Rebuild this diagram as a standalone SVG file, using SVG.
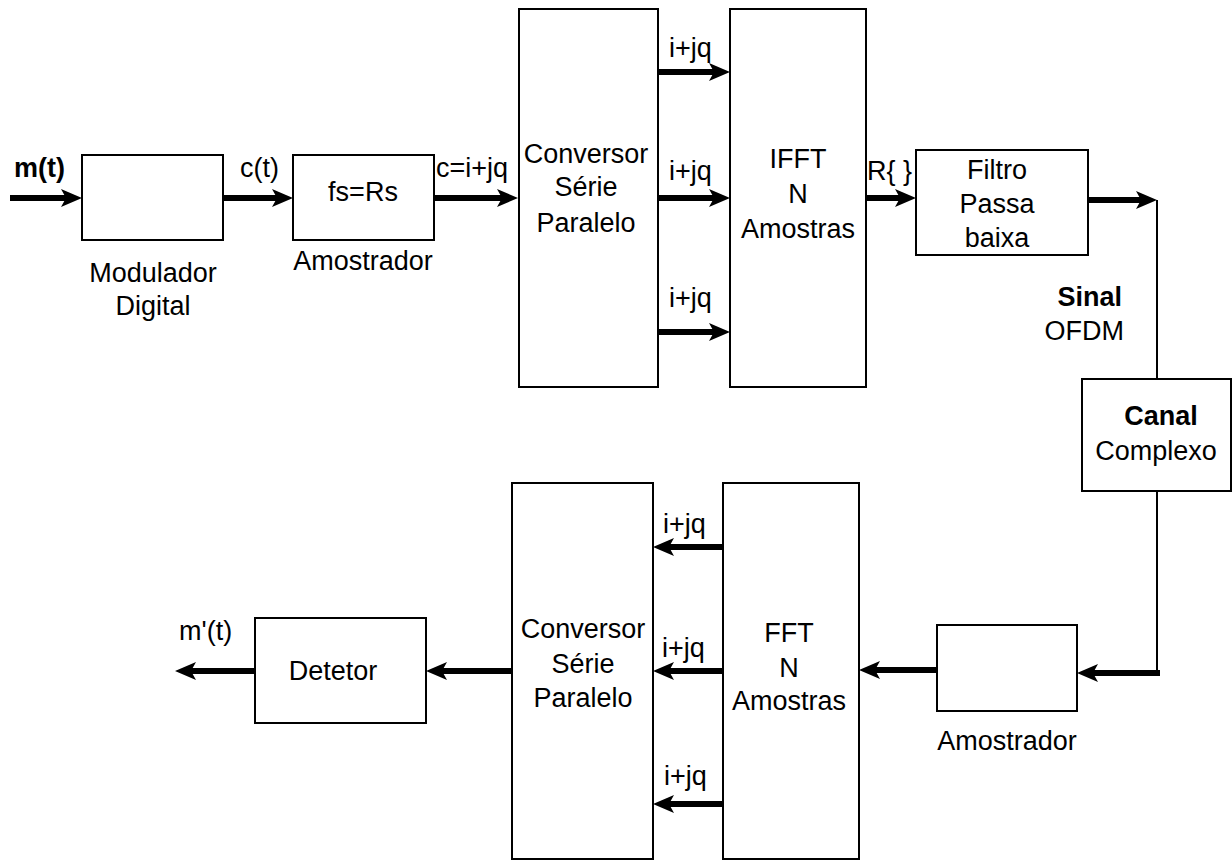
<svg xmlns="http://www.w3.org/2000/svg" width="1232" height="861" viewBox="0 0 1232 861">
<defs>
<style>
.box{fill:#fff;stroke:#000;stroke-width:2}
.t{font-family:"Liberation Sans",Arial,sans-serif;font-size:27px;fill:#000}
.c{text-anchor:middle}
.b{font-weight:bold}
.a{stroke:#000;stroke-width:6;fill:none;marker-end:url(#ah)}
.w{stroke:#000;stroke-width:2;fill:none}
</style>
<marker id="ah" markerUnits="userSpaceOnUse" markerWidth="24" markerHeight="20" refX="8" refY="9" orient="auto" overflow="visible">
<path d="M0,0 L21,9 L0,18 L5,9 z" fill="#000"/>
</marker>
</defs>
<rect width="1232" height="861" fill="#fff"/>

<g id="modulador">
<rect class="box" x="82" y="155" width="141" height="85"/>
<text class="t c" x="153" y="282">Modulador</text>
<text class="t c" x="153" y="315">Digital</text>
</g>
<g id="amostrador1">
<rect class="box" x="293" y="155" width="141" height="85"/>
<text class="t c" x="363" y="201">fs=Rs</text>
<text class="t c" x="363" y="270">Amostrador</text>
</g>
<g id="conversor1">
<rect class="box" x="519" y="9" width="139" height="378"/>
<text class="t c" x="586" y="163">Conversor</text>
<text class="t c" x="586" y="196">Série</text>
<text class="t c" x="586" y="232">Paralelo</text>
</g>
<g id="ifft">
<rect class="box" x="730" y="9" width="136" height="378"/>
<text class="t c" x="798" y="168">IFFT</text>
<text class="t c" x="798" y="203">N</text>
<text class="t c" x="798" y="238">Amostras</text>
</g>
<g id="filtro">
<rect class="box" x="916" y="150" width="172" height="105"/>
<text class="t c" x="997" y="179">Filtro</text>
<text class="t c" x="997" y="213">Passa</text>
<text class="t c" x="997" y="247">baixa</text>
</g>
<g id="canal">
<rect class="box" x="1082" y="379" width="149" height="112"/>
<text class="t c b" x="1161" y="425">Canal</text>
<text class="t c" x="1156" y="460">Complexo</text>
</g>
<g id="amostrador2">
<rect class="box" x="937" y="625" width="140" height="86"/>
<text class="t c" x="1007" y="750">Amostrador</text>
</g>
<g id="fft">
<rect class="box" x="723" y="483" width="136" height="376"/>
<text class="t c" x="789" y="642">FFT</text>
<text class="t c" x="789" y="677">N</text>
<text class="t c" x="789" y="710">Amostras</text>
</g>
<g id="conversor2">
<rect class="box" x="512" y="483" width="141" height="376"/>
<text class="t c" x="583" y="638">Conversor</text>
<text class="t c" x="583" y="673">Série</text>
<text class="t c" x="583" y="707">Paralelo</text>
</g>
<g id="detetor">
<rect class="box" x="255" y="618" width="171" height="105"/>
<text class="t c" x="333" y="680">Detetor</text>
</g>

<g id="connectors">
<line class="a" x1="10" y1="198" x2="69" y2="198"/>
<line class="a" x1="223" y1="198" x2="280" y2="198"/>
<line class="a" x1="434" y1="198" x2="505" y2="198"/>
<line class="a" x1="658" y1="72" x2="717" y2="72"/>
<line class="a" x1="658" y1="198" x2="717" y2="198"/>
<line class="a" x1="658" y1="332" x2="717" y2="332"/>
<line class="a" x1="866" y1="198" x2="903" y2="198"/>
<line class="a" x1="1088" y1="200" x2="1144" y2="200"/>
<polyline class="w" points="1157,200 1157,379"/>
<polyline class="w" points="1157,491 1157,673"/>
<line class="a" x1="1160" y1="673" x2="1090" y2="673"/>
<line class="a" x1="937" y1="670" x2="872" y2="670"/>
<line class="a" x1="723" y1="547" x2="666" y2="547"/>
<line class="a" x1="723" y1="671" x2="666" y2="671"/>
<line class="a" x1="723" y1="804" x2="666" y2="804"/>
<line class="a" x1="512" y1="671" x2="439" y2="671"/>
<line class="a" x1="255" y1="671" x2="188" y2="671"/>
</g>

<g id="labels">
<text class="t b" x="14" y="177">m(t)</text>
<text class="t" x="240" y="177">c(t)</text>
<text class="t" x="436" y="177">c=i+jq</text>
<text class="t" x="669" y="57">i+jq</text>
<text class="t" x="669" y="180">i+jq</text>
<text class="t" x="669" y="307">i+jq</text>
<text class="t" x="867" y="180">R{ }</text>
<text class="t b" x="1122" y="306" text-anchor="end">Sinal</text>
<text class="t" x="1124" y="340" text-anchor="end">OFDM</text>
<text class="t" x="663" y="533">i+jq</text>
<text class="t" x="662" y="657">i+jq</text>
<text class="t" x="664" y="785">i+jq</text>
<text class="t" x="179" y="640">m'(t)</text>
</g>
</svg>
